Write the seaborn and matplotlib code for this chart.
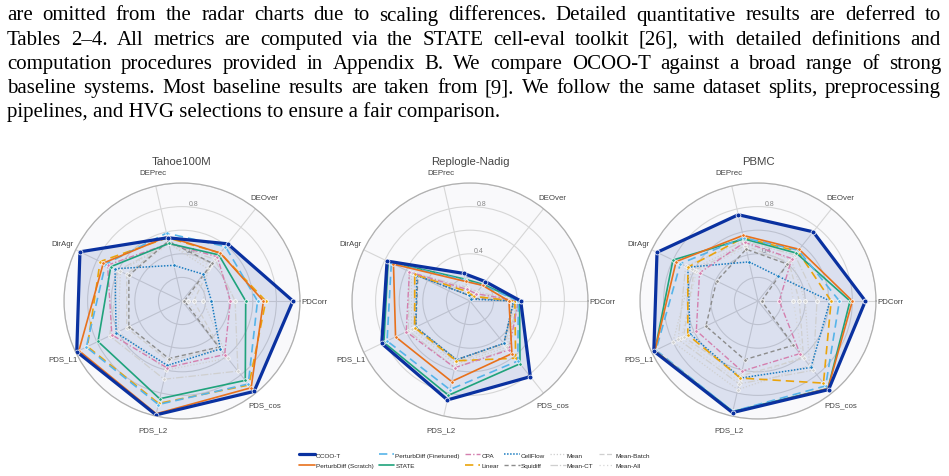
import numpy as np
import matplotlib
matplotlib.use("Agg")
import matplotlib.pyplot as plt
from matplotlib.lines import Line2D
import seaborn as sns

# metrics, counter-clockwise starting from the right (0 deg)
metrics = ["PDCorr", "DEOver", "DEPrec", "DirAgr", "PDS_L1", "PDS_L2", "PDS_cos"]
datasets = ["Tahoe100M", "Replogle-Nadig", "PBMC"]
methods = ["OCOO-T", "PerturbDiff (Scratch)", "PerturbDiff (Finetuned)", "STATE",
           "CPA", "Linear", "CellFlow", "Squidiff",
           "Mean", "Mean-CT", "Mean-Batch", "Mean-All"]

tahoe = {
    "OCOO-T":                  [0.94, 0.62, 0.55, 0.96, 0.99, 0.99, 0.98],
    "PerturbDiff (Scratch)":   [0.69, 0.52, 0.56, 0.74, 0.97, 0.98, 0.94],
    "PerturbDiff (Finetuned)": [0.64, 0.59, 0.59, 0.72, 0.90, 0.90, 0.90],
    "STATE":                   [0.54, 0.50, 0.50, 0.67, 0.79, 0.85, 0.86],
    "CPA":                     [0.41, 0.48, 0.50, 0.70, 0.66, 0.58, 0.58],
    "Linear":                  [0.71, 0.52, 0.55, 0.77, 0.89, 0.89, 0.91],
    "CellFlow":                [0.25, 0.29, 0.31, 0.63, 0.62, 0.56, 0.52],
    "Squidiff":                [0.02, 0.41, 0.52, 0.50, 0.50, 0.50, 0.50],
    "Mean":                    [0.18, 0.35, 0.50, 0.58, 0.60, 0.60, 0.62],
    "Mean-CT":                 [0.45, 0.45, 0.50, 0.60, 0.68, 0.68, 0.76],
    "Mean-Batch":              [0.10, 0.40, 0.52, 0.52, 0.52, 0.52, 0.52],
    "Mean-All":                [0.05, 0.38, 0.50, 0.50, 0.50, 0.50, 0.50],
}
replogle = {
    "OCOO-T":                  [0.43, 0.21, 0.24, 0.78, 0.83, 0.86, 0.82],
    "PerturbDiff (Scratch)":   [0.33, 0.17, 0.17, 0.72, 0.70, 0.70, 0.57],
    "PerturbDiff (Finetuned)": [0.41, 0.17, 0.18, 0.74, 0.78, 0.77, 0.65],
    "STATE":                   [0.42, 0.18, 0.19, 0.77, 0.81, 0.82, 0.68],
    "CPA":                     [0.41, 0.08, 0.10, 0.57, 0.60, 0.58, 0.53],
    "Linear":                  [0.38, 0.05, 0.08, 0.52, 0.52, 0.52, 0.62],
    "CellFlow":                [0.37, 0.02, 0.05, 0.50, 0.51, 0.51, 0.46],
    "Squidiff":                [0.37, 0.03, 0.05, 0.49, 0.51, 0.51, 0.46],
    "Mean":                    [0.40, 0.08, 0.10, 0.55, 0.55, 0.55, 0.50],
    "Mean-CT":                 [0.40, 0.10, 0.12, 0.57, 0.58, 0.58, 0.52],
    "Mean-Batch":              [0.38, 0.06, 0.08, 0.52, 0.53, 0.53, 0.48],
    "Mean-All":                [0.37, 0.05, 0.07, 0.50, 0.52, 0.52, 0.47],
}
pbmc = {
    "OCOO-T":                  [0.91, 0.75, 0.75, 0.95, 0.98, 0.97, 0.96],
    "PerturbDiff (Scratch)":   [0.80, 0.56, 0.57, 0.77, 0.97, 0.97, 0.95],
    "PerturbDiff (Finetuned)": [0.69, 0.55, 0.55, 0.73, 0.96, 0.96, 0.92],
    "STATE":                   [0.78, 0.52, 0.54, 0.80, 0.97, 0.96, 0.95],
    "CPA":                     [0.18, 0.46, 0.51, 0.55, 0.58, 0.61, 0.57],
    "Linear":                  [0.62, 0.54, 0.55, 0.66, 0.66, 0.67, 0.89],
    "CellFlow":                [0.61, 0.27, 0.34, 0.66, 0.64, 0.67, 0.72],
    "Squidiff":                [0.03, 0.40, 0.45, 0.39, 0.49, 0.51, 0.48],
    "Mean":                    [0.40, 0.45, 0.50, 0.62, 0.80, 0.77, 0.70],
    "Mean-CT":                 [0.50, 0.50, 0.52, 0.68, 0.75, 0.72, 0.75],
    "Mean-Batch":              [0.35, 0.42, 0.48, 0.60, 0.70, 0.65, 0.62],
    "Mean-All":                [0.30, 0.40, 0.46, 0.58, 0.72, 0.70, 0.60],
}
all_data = [tahoe, replogle, pbmc]

para_lines = [
    "are omitted from the radar charts due to scaling differences.  Detailed quantitative results are deferred to",
    "Tables 2\u20134.  All metrics are computed via the STATE cell-eval toolkit [26], with detailed definitions and",
    "computation procedures provided in Appendix B. We compare OCOO-T against a broad range of strong",
    "baseline systems. Most baseline results are taken from [9]. We follow the same dataset splits, preprocessing",
    "pipelines, and HVG selections to ensure a fair comparison.",
]

# color, linestyle, linewidth
styles = {
    "OCOO-T": ("#0a31a0", "-", 2.3),
    "PerturbDiff (Scratch)": ("#e8711c", "-", 1.2),
    "PerturbDiff (Finetuned)": ("#56b4e9", (0, (5, 3)), 1.2),
    "STATE": ("#1fa37c", "-", 1.2),
    "CPA": ("#d47fae", (0, (4, 1.5, 1, 1.5)), 1.0),
    "Linear": ("#eaa40c", (0, (5, 3)), 1.2),
    "CellFlow": ("#1b7cc0", (0, (1, 1)), 1.1),
    "Squidiff": ("#8c8c8c", (0, (3, 2)), 1.0),
    "Mean": ("#cfcfcf", (0, (1, 1.5)), 0.9),
    "Mean-CT": ("#cfcfcf", (0, (6, 1.5, 1, 1.5)), 0.9),
    "Mean-Batch": ("#cfcfcf", (0, (4, 2)), 0.9),
    "Mean-All": ("#d6d6d6", (0, (1, 2)), 0.9),
}

sns.set_style("white")
plt.rcParams["font.family"] = ["Liberation Sans", "DejaVu Sans"]

W, H = 949, 477
fig = plt.figure(figsize=(W / 100, H / 100), dpi=100)

angles = np.arange(len(metrics)) * 2 * np.pi / len(metrics)
theta = np.append(angles, 2 * np.pi)

centers = [182, 470, 758]
cy = 302
R = 118

for k, (name, data) in enumerate(zip(datasets, all_data)):
    cx = centers[k]
    ax = fig.add_axes([(cx - R) / W, (H - cy - R) / H, 2 * R / W, 2 * R / H], projection="polar")
    ax.set_facecolor("#f9f9fb")
    ax.set_ylim(0, 1.0)
    ax.set_yticks([0.2, 0.4, 0.6, 0.8, 1.0])
    ax.set_yticklabels(["", "0.4", "", "0.8", ""], fontsize=5, color="#888888")
    ax.set_rlabel_position(86)
    ax.set_xticks(angles)
    ax.set_xticklabels([])
    ax.grid(True, color="#d6d6d6", linewidth=0.8)
    ax.spines["polar"].set_color("#b0b0b0")
    ax.spines["polar"].set_linewidth(0.9)

    for m in reversed(methods):
        col, ls, lw = styles[m]
        vals = np.append(data[m], data[m][0])
        sns.lineplot(x=theta, y=vals, ax=ax, sort=False, estimator=None, color=col,
                     linestyle=ls, linewidth=lw, marker="o",
                     markersize=3.5 if m == "OCOO-T" else 2.5,
                     markeredgecolor="white", markeredgewidth=0.5, legend=False,
                     zorder=5 if m == "OCOO-T" else 3)
        if m == "OCOO-T":
            ax.fill(theta, vals, color=col, alpha=0.12, zorder=2)
    ax.set_xlabel("")
    ax.set_ylabel("")

    for a, lab in zip(angles, metrics):
        ax.text(a, 1.12, lab, ha="center", va="center", fontsize=5.7, color="#444444")
    ax.text(np.pi / 2, 1.185, name, ha="center", va="center", fontsize=8.2, color="#444444")

handles = []
for m in methods:
    col, ls, lw = styles[m]
    handles.append(Line2D([], [], color=col, linestyle=ls, linewidth=lw))
fig.legend(handles, methods, loc="center", bbox_to_anchor=(0.5, 0.0335), ncol=6,
           fontsize=4.6, frameon=False, handlelength=2.4, handletextpad=0.2,
           columnspacing=0.8, labelspacing=0.75, borderpad=0)

# paragraph text, justified word by word
renderer = fig.canvas.get_renderer()
serif = "Liberation Serif"
x0, x1 = 7, 941
fs = 15
baselines = [20.5, 44.8, 69, 93.2, 117.4]
for i, line in enumerate(para_lines):
    y = 1 - baselines[i] / H
    kw = dict(fontsize=fs, family=serif, color="black", va="baseline", ha="left")
    if i == len(para_lines) - 1:
        fig.text(x0 / W, y, line, **kw)
        continue
    words = line.split()
    ts = [fig.text(0, y, w, **kw) for w in words]
    widths = [t.get_window_extent(renderer).width for t in ts]
    gap = (x1 - x0 - sum(widths)) / (len(words) - 1)
    x = x0
    for t, w in zip(ts, widths):
        t.set_x(x / W)
        x += w + gap

fig.savefig("out.png", dpi=100)
